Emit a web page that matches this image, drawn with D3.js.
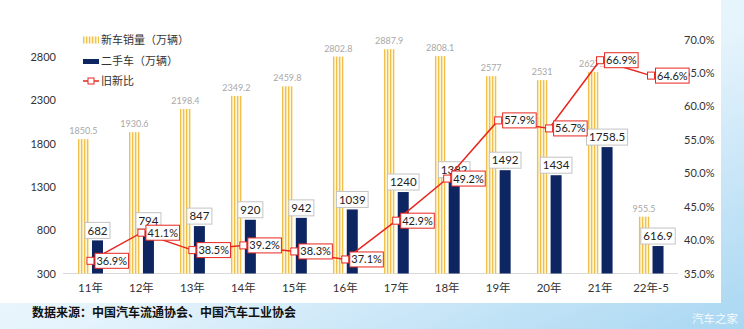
<!DOCTYPE html>
<html>
<head>
<meta charset="utf-8">
<script src="https://cdn.jsdelivr.net/npm/d3@7/dist/d3.min.js"></script>
<style>
  html, body { margin: 0; padding: 0; }
  body { width: 744px; height: 329px; overflow: hidden; }
  svg { display: block; }
</style>
</head>
<body>
<svg id="chart" width="744" height="329"></svg>
<script>
// Years (2011 – May 2022)
const categories = ["11年", "12年", "13年", "14年", "15年", "16年", "17年", "18年", "19年", "20年", "21年", "22年-5"];
// New-car sales, 10k units
const newCarSales = [1850.5, 1930.6, 2198.4, 2349.2, 2459.8, 2802.8, 2887.9, 2808.1, 2577, 2531, 2627.5, 955.5];
// Used-car transactions, 10k units
const usedCarSales = [682, 794, 847, 920, 942, 1039, 1240, 1382, 1492, 1434, 1758.5, 616.9];
// Used-to-new ratio
const ratio = [0.369, 0.411, 0.385, 0.392, 0.383, 0.371, 0.429, 0.492, 0.579, 0.567, 0.669, 0.646];
// Axis ticks
const leftTicks = [300, 800, 1300, 1800, 2300, 2800];
const rightTicks = [0.35, 0.40, 0.45, 0.50, 0.55, 0.60, 0.65, 0.70];
const legendLabels = ["新车销量（万辆）", "二手车（万辆）", "旧新比"];
const sourceNote = "数据来源：中国汽车流通协会、中国汽车工业协会";
const watermark = "汽车之家";

const FONT = "Lato, 'Noto Sans CJK SC', sans-serif";
const CJK = "'Noto Sans CJK SC', sans-serif";
const NAVY = "#0d2560";
const RED = "#e8261f";

const svg = d3.select("#chart");
const defs = svg.append("defs");

// page backdrop
const bg = defs.append("linearGradient").attr("id", "bg")
  .attr("x1", "0").attr("y1", "0").attr("x2", "1").attr("y2", "1");
bg.append("stop").attr("offset", "0").attr("stop-color", "#ffffff");
bg.append("stop").attr("offset", "0.55").attr("stop-color", "#e4f3fc");
bg.append("stop").attr("offset", "1").attr("stop-color", "#a9d7f2");

// vertical pinstripes for new-car bars
const stripe = defs.append("pattern").attr("id", "stripes")
  .attr("patternUnits", "userSpaceOnUse").attr("width", 3).attr("height", 10);
stripe.append("rect").attr("width", 3).attr("height", 10).attr("fill", "#fdf5d8");
stripe.append("rect").attr("x", 0).attr("width", 1.3).attr("height", 10).attr("fill", "#f1c04a");

svg.append("rect").attr("width", 744).attr("height", 329).attr("fill", "url(#bg)");
svg.append("rect").attr("x", 0).attr("y", 0).attr("width", 721).attr("height", 303).attr("fill", "#ffffff");

// scales
const x = d3.scaleBand().domain(categories).range([65, 676.5]).padding(0);
const cx = c => x(c) + x.bandwidth() / 2;
const yL = d3.scaleLinear().domain([300, 3000]).range([273.5, 39.5]);
const yR = d3.scaleLinear().domain([0.35, 0.70]).range([273.5, 39.5]);

// axes
const leftAxis = d3.axisLeft(yL).tickValues(leftTicks).tickFormat(d3.format("d")).tickSize(0).tickPadding(0);
svg.append("g").attr("transform", "translate(56,0)").call(leftAxis)
  .call(g => g.select(".domain").remove())
  .call(g => g.selectAll("text").attr("font-family", FONT).attr("font-size", 11).attr("fill", "#333"));

const rightAxis = d3.axisRight(yR).tickValues(rightTicks).tickFormat(d3.format(".1%")).tickSize(0).tickPadding(0);
svg.append("g").attr("transform", "translate(684,0)").call(rightAxis)
  .call(g => g.select(".domain").remove())
  .call(g => g.selectAll("text").attr("font-family", FONT).attr("font-size", 11).attr("fill", "#333"));

const bottomAxis = d3.axisBottom(x).tickSize(0).tickPadding(10);
svg.append("g").attr("transform", "translate(0,273.5)").call(bottomAxis)
  .call(g => g.select(".domain").attr("stroke", "#d9d9d9").attr("d", "M-1,0H614").attr("transform", "translate(64,0)"))
  .call(g => g.selectAll("text").attr("font-family", FONT).attr("font-size", 11.5).attr("fill", "#333"));

// bars
const data = categories.map((c, i) => ({ c, n: newCarSales[i], u: usedCarSales[i], r: ratio[i] }));

svg.append("g").selectAll("rect").data(data).join("rect")
  .attr("x", d => cx(d.c) - 12.5).attr("width", 11)
  .attr("y", d => yL(d.n)).attr("height", d => yL(300) - yL(d.n))
  .attr("fill", "url(#stripes)");

svg.append("g").selectAll("rect").data(data).join("rect")
  .attr("x", d => cx(d.c) + 1.5).attr("width", 11)
  .attr("y", d => yL(d.u)).attr("height", d => yL(300) - yL(d.u))
  .attr("fill", NAVY);

// new-car value labels
svg.append("g").selectAll("text").data(data).join("text")
  .attr("x", d => cx(d.c) - 7).attr("y", d => yL(d.n) - 5)
  .attr("text-anchor", "middle").attr("font-family", FONT).attr("font-size", 9)
  .attr("fill", "#a8a8a8").text(d => d3.format("")(d.n));

// used-car value labels in boxes
const uLab = svg.append("g").selectAll("g").data(data).join("g")
  .attr("transform", d => `translate(${cx(d.c) + 7},${yL(d.u) - 10})`);
uLab.append("text").attr("text-anchor", "middle").attr("dy", "0.36em")
  .attr("font-family", FONT).attr("font-size", 11.5).attr("fill", "#222")
  .text(d => d3.format("")(d.u));
uLab.each(function () {
  const g = d3.select(this);
  const w = g.select("text").node().getComputedTextLength();
  g.insert("rect", "text").attr("x", -w / 2 - 2.5).attr("y", -8).attr("width", w + 5).attr("height", 16)
    .attr("fill", "#fff").attr("stroke", "#c4c4c4").attr("stroke-width", 1);
});

// ratio line
const line = d3.line().x(d => cx(d.c)).y(d => yR(d.r));
svg.append("path").datum(data).attr("d", line)
  .attr("fill", "none").attr("stroke", RED).attr("stroke-width", 1.5);
svg.append("g").selectAll("rect").data(data).join("rect")
  .attr("x", d => cx(d.c) - 3.5).attr("y", d => yR(d.r) - 3.5)
  .attr("width", 7).attr("height", 7)
  .attr("fill", "#fff").attr("stroke", RED).attr("stroke-width", 1);

// ratio labels
const rLab = svg.append("g").selectAll("g").data(data).join("g")
  .attr("transform", d => `translate(${cx(d.c) + 4.5},${yR(d.r)})`);
rLab.append("text").attr("x", 1.5).attr("dy", "0.36em")
  .attr("font-family", FONT).attr("font-size", 11).attr("fill", "#222")
  .text(d => d3.format(".1%")(d.r));
rLab.each(function () {
  const g = d3.select(this);
  const w = g.select("text").node().getComputedTextLength();
  g.insert("rect", "text").attr("x", 0).attr("y", -7.5).attr("width", w + 3).attr("height", 15)
    .attr("fill", "#fff").attr("stroke", RED).attr("stroke-width", 1);
});

// legend
const legend = svg.append("g").attr("transform", "translate(83,0)");
legend.append("rect").attr("x", 0).attr("y", 36.5).attr("width", 16).attr("height", 7).attr("fill", "url(#stripes)");
legend.append("rect").attr("x", 0).attr("y", 59).attr("width", 16).attr("height", 5).attr("fill", NAVY);
legend.append("line").attr("x1", 0).attr("x2", 16).attr("y1", 81).attr("y2", 81).attr("stroke", RED).attr("stroke-width", 1.5);
legend.append("rect").attr("x", 5).attr("y", 78).attr("width", 6).attr("height", 6)
  .attr("fill", "#fff").attr("stroke", RED).attr("stroke-width", 1);
legend.selectAll("text").data(legendLabels).join("text")
  .attr("x", 18).attr("y", (d, i) => [40, 61, 81][i]).attr("dy", "0.36em")
  .attr("font-family", CJK).attr("font-size", 11).attr("fill", "#333").text(d => d);

// source note and watermark
svg.append("text").attr("x", 32).attr("y", 316.5)
  .attr("font-family", CJK).attr("font-weight", 700).attr("font-size", 12).attr("fill", "#111")
  .text(sourceNote);
svg.append("text").attr("x", 692).attr("y", 323)
  .attr("font-family", CJK).attr("font-size", 11.5).attr("fill", "#ffffff").attr("opacity", 0.9)
  .text(watermark);
</script>
</body>
</html>
